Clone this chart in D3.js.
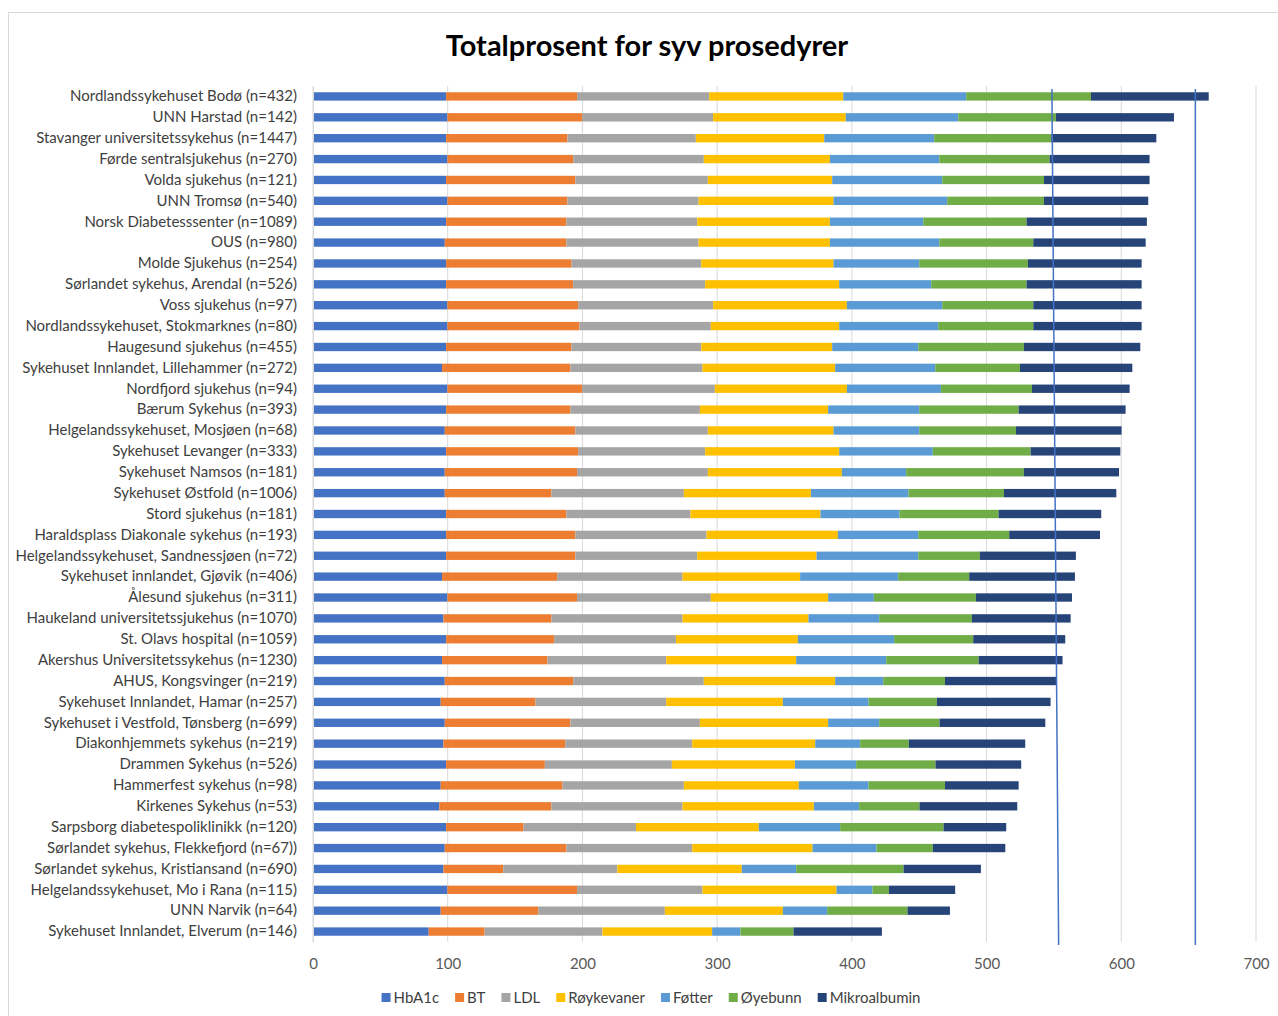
<!DOCTYPE html>
<html>
<head>
<meta charset="utf-8">
<script src="https://cdn.jsdelivr.net/npm/d3@7"></script>
<style>
  body { margin: 0; background: #fff; }
  text { font-family: Lato, "Open Sans", sans-serif; }
</style>
</head>
<body>
<div id="chart"></div>
<script>
let categories = [
  "Nordlandssykehuset Bodø (n=432)", "UNN Harstad (n=142)", "Stavanger universitetssykehus (n=1447)",
  "Førde sentralsjukehus (n=270)", "Volda sjukehus (n=121)", "UNN Tromsø (n=540)",
  "Norsk Diabetesssenter (n=1089)", "OUS (n=980)", "Molde Sjukehus (n=254)",
  "Sørlandet sykehus, Arendal (n=526)", "Voss sjukehus (n=97)", "Nordlandssykehuset, Stokmarknes (n=80)",
  "Haugesund sjukehus (n=455)", "Sykehuset Innlandet, Lillehammer (n=272)", "Nordfjord sjukehus (n=94)",
  "Bærum Sykehus (n=393)", "Helgelandssykehuset, Mosjøen (n=68)", "Sykehuset Levanger (n=333)",
  "Sykehuset Namsos (n=181)", "Sykehuset Østfold (n=1006)", "Stord sjukehus (n=181)",
  "Haraldsplass Diakonale sykehus (n=193)", "Helgelandssykehuset, Sandnessjøen (n=72)", "Sykehuset innlandet, Gjøvik (n=406)",
  "Ålesund sjukehus (n=311)", "Haukeland universitetssjukehus (n=1070)", "St. Olavs hospital (n=1059)",
  "Akershus Universitetssykehus (n=1230)", "AHUS, Kongsvinger (n=219)", "Sykehuset Innlandet, Hamar (n=257)",
  "Sykehuset i Vestfold, Tønsberg (n=699)", "Diakonhjemmets sykehus (n=219)", "Drammen Sykehus (n=526)",
  "Hammerfest sykehus (n=98)", "Kirkenes Sykehus (n=53)", "Sarpsborg diabetespoliklinikk (n=120)",
  "Sørlandet sykehus, Flekkefjord (n=67))", "Sørlandet sykehus, Kristiansand (n=690)", "Helgelandssykehuset, Mo i Rana (n=115)",
  "UNN Narvik (n=64)", "Sykehuset Innlandet, Elverum (n=146)"
];

let seriesNames = ["HbA1c", "BT", "LDL", "Røykevaner", "Føtter", "Øyebunn", "Mikroalbumin"];
let seriesColors = ["#4472C4", "#ED7D31", "#A5A5A5", "#FFC000", "#5B9BD5", "#70AD47", "#264478"];

let hba1c = [98.8, 99.8, 98.8, 99.8, 98.8, 99.8, 98.8, 97.8, 98.8, 98.8, 99.8, 99.8, 98.8, 95.8, 99.8, 98.8, 97.8, 98.8, 97.8, 97.8, 98.8, 98.8, 98.8, 95.8, 99.8, 96.8, 98.8, 95.8, 97.8, 94.8, 97.8, 96.8, 98.8, 94.8, 93.8, 98.8, 97.8, 96.8, 99.8, 94.8, 85.9];
let bt = [97.2, 100, 90.1, 93.3, 96, 89.1, 89.3, 90.3, 93.1, 94.3, 97, 98, 93.1, 95.3, 100, 92.3, 97, 98, 98.2, 79.2, 89.3, 96, 96, 85.4, 96.2, 80.2, 80.2, 78.3, 95.3, 70.4, 93.3, 90.4, 73.3, 90.4, 83.2, 57.5, 90.3, 44.4, 96.2, 72.4, 41.5];
let ldl = [98.1, 97.2, 95.3, 97, 98.3, 97.3, 97.1, 98.1, 96.3, 98, 100.2, 97.5, 96.3, 98, 98.5, 96.1, 98.3, 94.3, 97.1, 98.3, 92.1, 97.3, 90.4, 93.1, 99.3, 97.3, 90.4, 88.1, 97, 97, 96.1, 94.3, 94.3, 90.1, 97.3, 83.5, 93.4, 84.7, 93.1, 94, 87.4];
let royk = [99.5, 98.5, 95.3, 93.6, 92.3, 100.2, 98.5, 97.5, 98.2, 99.5, 99.3, 95.3, 97.2, 98.5, 98, 95.2, 93.3, 99.5, 99.5, 94.3, 96.5, 97.5, 88.6, 87.3, 87.1, 93.5, 90.5, 96.5, 97.5, 86.6, 95.2, 91.3, 91.3, 85.3, 97.5, 91.1, 89.3, 92.4, 99.5, 87.6, 81.5];
let fotter = [91.3, 83.5, 81.6, 81.2, 81.7, 84.4, 69.3, 81.2, 63.6, 68.3, 70.8, 73.5, 63.9, 74.3, 69.8, 67.6, 63.6, 69.5, 47.7, 72.5, 58.7, 59.7, 75.5, 72.8, 33.9, 52.5, 71.5, 66.8, 35.7, 63.6, 37.9, 33.4, 45.5, 51.8, 33.6, 60.4, 47.5, 40.4, 26.7, 32.9, 21];
let oyebunn = [92.6, 72.5, 86.9, 81.9, 75.5, 71.8, 76.7, 69.8, 80.7, 70.8, 67.6, 70.6, 78.4, 62.9, 67.6, 73.8, 71.8, 72.6, 87.4, 70.8, 73.5, 67.5, 45.7, 52.7, 75.8, 68.8, 58.7, 68.6, 45.8, 50.7, 44.8, 36.1, 58.9, 56.7, 44.8, 76.8, 41.8, 79.7, 12.2, 59.6, 39.4];
let mikro = [87.4, 87.6, 78, 74.2, 78.4, 77.4, 89.3, 83.4, 84.4, 85.4, 80.4, 80.4, 86.4, 83.4, 72.5, 79.4, 78.4, 66.6, 70.6, 83.4, 76.2, 67.4, 71.3, 78.5, 71.3, 73.3, 68.3, 62.3, 83.1, 84.4, 78.5, 86.4, 63.6, 54.7, 72.6, 46.5, 53.8, 57.4, 49.2, 31.5, 65.6];

let xTicks = [0, 100, 200, 300, 400, 500, 600, 700];
// two reference lines drawn over the chart (value at top, value at bottom)
let refLines = [[548.5, 553.5], [655, 655]];

let svgWidth = 1278;
let svgHeight = 1016;
let margin = { top: 86, right: 22, bottom: 74, left: 313 };
let width = svgWidth - margin.left - margin.right;
let height = svgHeight - margin.top - margin.bottom;

let allSeries = [hba1c, bt, ldl, royk, fotter, oyebunn, mikro];
let table = categories.map(function(c, i){
    let row = { name: c };
    seriesNames.forEach(function(s, j){ row[s] = allSeries[j][i]; });
    return row;
});
let stacked = d3.stack().keys(seriesNames)(table);

let svg = d3.select('#chart')
            .append('svg')
            .attr('width', svgWidth)
            .attr('height', svgHeight);

// chart border
svg.append('rect')
    .attr('x', 8.5).attr('y', 12.5)
    .attr('width', svgWidth).attr('height', svgHeight)
    .attr('fill', 'none').attr('stroke', '#d9d9d9');

svg.append('text')
    .attr('x', 647).attr('y', 56)
    .attr('text-anchor', 'middle')
    .attr('font-size', 29).attr('font-weight', 'bold')
    .attr('fill', '#000')
    .text('Totalprosent for syv prosedyrer');

let chart = svg.append('g')
            .attr('transform', `translate(${margin.left},${margin.top})`);

let xScale = d3.scaleLinear().domain([0, 700]).range([0, width]);
let yScale = d3.scaleBand().domain(categories).range([0, height]).paddingInner(0.6).paddingOuter(0.3);

// grid
chart.append('g')
    .selectAll('line')
    .data(xTicks)
    .join('line')
    .attr('x1', d => xScale(d)).attr('x2', d => xScale(d))
    .attr('y1', 0).attr('y2', height)
    .attr('stroke', '#d9d9d9').attr('stroke-width', 1);

chart.append('g')
    .selectAll('g')
    .data(stacked)
    .join('g')
    .attr('fill', (d, i) => seriesColors[i])
    .selectAll('rect')
    .data(d => d)
    .join('rect')
    .attr('x', d => xScale(d[0]))
    .attr('y', d => yScale(d.data.name))
    .attr('width', d => xScale(d[1]) - xScale(d[0]))
    .attr('height', yScale.bandwidth());

// category axis
let yAxis = d3.axisLeft(yScale).tickSize(0).tickPadding(16);
let yG = chart.append('g').call(yAxis);
yG.select('.domain').attr('stroke', '#d9d9d9');
yG.selectAll('text')
    .attr('font-size', 15)
    .attr('fill', '#404040')
    .style('font-family', 'Lato, sans-serif');

// value axis
let xAxis = d3.axisBottom(xScale).tickValues(xTicks).tickSize(0).tickPadding(16);
let xG = chart.append('g').attr('transform', `translate(0,${height})`).call(xAxis);
xG.select('.domain').remove();
xG.selectAll('text')
    .attr('font-size', 15)
    .attr('fill', '#595959')
    .style('font-family', 'Lato, sans-serif');

// reference lines
chart.append('g')
    .selectAll('line')
    .data(refLines)
    .join('line')
    .attr('x1', d => xScale(d[0])).attr('x2', d => xScale(d[1]))
    .attr('y1', 3).attr('y2', height + 3)
    .attr('stroke', '#4472C4').attr('stroke-width', 1.5);

// legend
let legend = svg.append('g');
let lx = 0;
seriesNames.forEach(function(s, i){
    let item = legend.append('g').attr('transform', `translate(${lx},0)`);
    item.append('rect')
        .attr('x', 0).attr('y', -10)
        .attr('width', 9).attr('height', 9)
        .attr('fill', seriesColors[i]);
    let t = item.append('text')
        .attr('x', 12).attr('y', 0)
        .attr('font-size', 15)
        .attr('fill', '#404040')
        .text(s);
    lx += 12 + t.node().getComputedTextLength() + 16;
});
let legendWidth = lx - 16;
legend.attr('transform', `translate(${651 - legendWidth / 2},1003)`);
</script>
</body>
</html>
